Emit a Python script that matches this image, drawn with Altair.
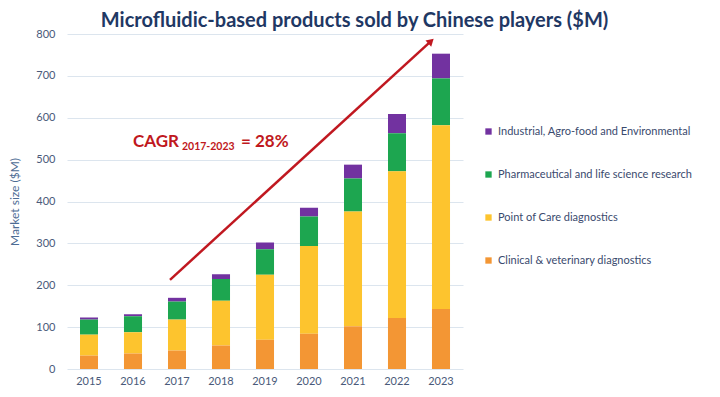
import altair as alt
import pandas as pd

years = ["2015", "2016", "2017", "2018", "2019", "2020", "2021", "2022", "2023"]
clinical = [32, 37, 44, 56, 70, 84, 102, 122, 143]
poc = [50, 51, 74, 107, 155, 210, 274, 350, 439]
pharma = [36, 38, 43, 52, 61, 70, 79, 91, 112]
industrial = [5, 5, 9, 11, 16, 21, 33, 46, 59]

segments = [
    "Industrial, Agro-food and Environmental",
    "Pharmaceutical and life science research",
    "Point of Care diagnostics",
    "Clinical & veterinary diagnostics",
]
colors = ["#7232A0", "#1DA650", "#FDC42E", "#F39634"]
stack_rank = [3, 2, 1, 0]
series = [industrial, pharma, poc, clinical]

rows = []
for seg, vals, rank in zip(segments, series, stack_rank):
    for y, v in zip(years, vals):
        rows.append({"year": y, "segment": seg, "value": v, "rank": rank})
df = pd.DataFrame(rows)

arrow_df = pd.DataFrame([{"x": "2017", "y": 213, "x2": "2023", "y2": 783}])
head_df = pd.DataFrame([{"x": "2023", "y": 783}])
cagr_df = pd.DataFrame([{"x": "2016", "y": 542}])

FONT = "Lato"
xenc = alt.X("year:N", title=None, sort=years,
             scale=alt.Scale(paddingInner=0.59, paddingOuter=0.295),
             axis=alt.Axis(labelAngle=0, ticks=False, domain=False, labelPadding=6,
                           labelFont=FONT, labelFontSize=11, labelColor="#4A5A7A"))

bars = alt.Chart(df).mark_bar().encode(
    x=xenc,
    y=alt.Y("value:Q", title="Market size ($M)", stack="zero",
            scale=alt.Scale(domain=[0, 800]),
            axis=alt.Axis(values=list(range(0, 801, 100)), ticks=False, domain=False,
                          grid=True, gridColor="#DCE5EE", labelPadding=12,
                          labelFont=FONT, labelFontSize=11, labelColor="#4A5A7A",
                          titleFont=FONT, titleFontSize=12, titleColor="#4D6C94",
                          titleFontWeight="normal", titlePadding=14)),
    color=alt.Color("segment:N", sort=segments,
                    scale=alt.Scale(domain=segments, range=colors),
                    legend=alt.Legend(title=None, orient="none", legendX=416, legendY=92,
                                      symbolType="square", symbolSize=40,
                                      labelFont=FONT, labelFontSize=11, labelColor="#3A4A6E",
                                      rowPadding=31, labelLimit=300, labelOffset=4)),
    order=alt.Order("rank:Q", sort="ascending"),
)

arrow = alt.Chart(arrow_df).mark_rule(color="#C01820", strokeWidth=2.5, xOffset=-7, x2Offset=-10).encode(
    x=alt.X("x:N", sort=years), y="y:Q", x2="x2:N", y2="y2:Q"
)
head = alt.Chart(head_df).mark_point(shape="triangle-up", filled=True, color="#C01820",
                                     size=70, angle=47, opacity=1, xOffset=-10).encode(
    x=alt.X("x:N", sort=years), y="y:Q"
)

cagr_main = alt.Chart(cagr_df).mark_text(text="CAGR", align="left", baseline="middle",
                                         font=FONT, fontSize=17, fontWeight="bold",
                                         color="#C01820").encode(
    x=alt.X("x:N", sort=years), y="y:Q")
cagr_sub = alt.Chart(cagr_df).mark_text(text="2017-2023", align="left", baseline="middle",
                                        font=FONT, fontSize=10.5, fontWeight="bold",
                                        color="#C01820", dx=49, dy=5).encode(
    x=alt.X("x:N", sort=years), y="y:Q")
cagr_eq = alt.Chart(cagr_df).mark_text(text="= 28%", align="left", baseline="middle",
                                       font=FONT, fontSize=17, fontWeight="bold",
                                       color="#C01820", dx=108).encode(
    x=alt.X("x:N", sort=years), y="y:Q")

chart = alt.layer(bars, arrow, head, cagr_main, cagr_sub, cagr_eq).properties(
    width=396, height=335,
    padding={"left": 0, "top": 3, "right": 0, "bottom": 0},
    title=alt.TitleParams("Microfluidic-based products sold by Chinese players ($M)",
                          font=FONT, fontSize=20, fontWeight="bold", color="#1F3864",
                          anchor="start", dx=92, offset=-3),
).configure_view(stroke=None)

chart.save("out.html", embed_options={"renderer": "svg", "actions": False})
